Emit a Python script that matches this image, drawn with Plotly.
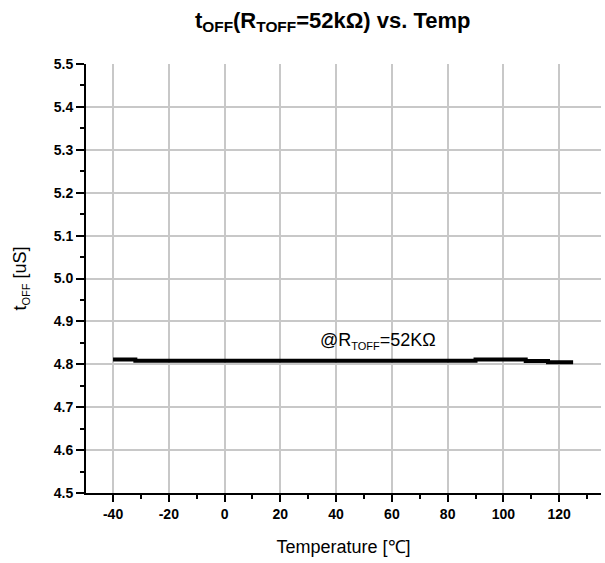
import plotly.graph_objects as go

# Data (step-like trace)
temp = [-40, -32, 90, 108, 116, 125]
toff = [4.811, 4.808, 4.811, 4.8075, 4.805, 4.805]

x_ticks = [-40, -20, 0, 20, 40, 60, 80, 100, 120]
y_ticks = [4.5, 4.6, 4.7, 4.8, 4.9, 5.0, 5.1, 5.2, 5.3, 5.4, 5.5]
y_tick_text = [f"{v:.1f}" for v in y_ticks]

FONT = "Arial, Liberation Sans, sans-serif"

fig = go.Figure()
fig.add_trace(go.Scatter(
    x=temp, y=toff, mode="lines", line_shape="hv",
    line=dict(color="black", width=4), showlegend=False,
))

fig.add_annotation(
    x=55, y=4.855, xref="x", yref="y",
    text="@R<sub><span style='font-size:11px'>TOFF</span></sub>=52KΩ", showarrow=False,
    font=dict(family=FONT, size=18, color="black"),
)

fig.update_layout(
    width=605, height=563,
    margin=dict(l=86, r=4, t=64, b=70),
    paper_bgcolor="white", plot_bgcolor="white",
    title=dict(
        text="<b>t<sub>OFF</sub>(R<sub>TOFF</sub>=52kΩ) vs. Temp</b>",
        x=0.55, xanchor="center", y=0.978, yanchor="top",
        font=dict(family=FONT, size=22, color="black"),
    ),
    font=dict(family=FONT, color="black"),
)

fig.update_xaxes(
    range=[-49.7, 135], tickvals=x_ticks,
    ticktext=[f"<b>{v}</b>" for v in x_ticks],
    tickfont=dict(family=FONT, size=14, color="black"),
    showline=True, linecolor="black", linewidth=2,
    ticks="outside", ticklen=7, tickwidth=2, tickcolor="black",
    minor=dict(dtick=10, tick0=0, ticks="outside", ticklen=4, tickwidth=2, tickcolor="black", showgrid=False),
    showgrid=True, gridcolor="#c8c8c8", gridwidth=1.5, zeroline=False,
    title=dict(text="Temperature [℃]", font=dict(family=FONT, size=18, color="black"), standoff=20),
)
fig.update_yaxes(
    range=[4.5, 5.5], tickvals=y_ticks,
    ticktext=[f"<b>{t}</b>" for t in y_tick_text],
    tickfont=dict(family=FONT, size=14, color="black"),
    showline=True, linecolor="black", linewidth=2,
    ticks="outside", ticklen=8, tickwidth=2, tickcolor="black",
    minor=dict(dtick=0.05, tick0=4.5, ticks="outside", ticklen=4, tickwidth=2, tickcolor="black", showgrid=False),
    showgrid=True, gridcolor="#c8c8c8", gridwidth=1.5, zeroline=False,
    title=dict(text="t<sub><span style='font-size:11px'>OFF</span></sub> [uS]",
               font=dict(family=FONT, size=18, color="black"), standoff=22),
)

fig.write_html("out.html")
